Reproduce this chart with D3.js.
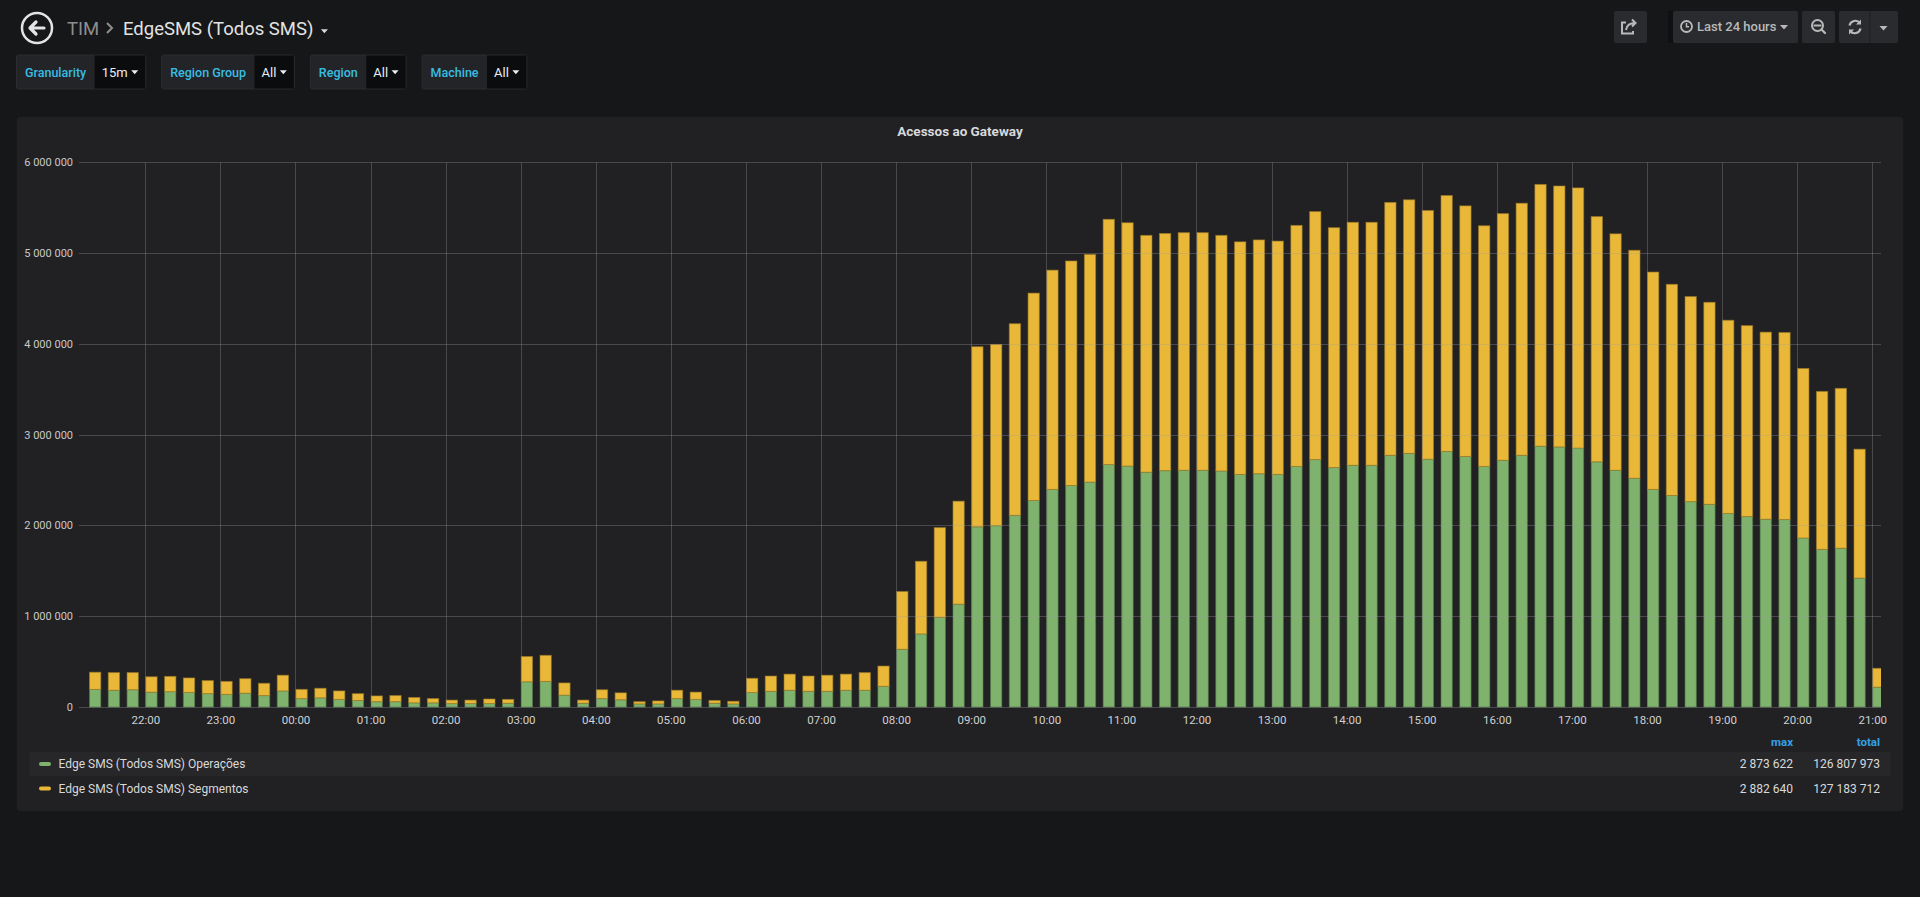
<!DOCTYPE html>
<html><head><meta charset="utf-8">
<script src="https://cdn.jsdelivr.net/npm/d3@7"></script>
<style>
html,body{margin:0;padding:0;background:#161719;overflow:hidden;}
svg{display:block;font-family:Roboto,"Helvetica Neue",Arial,sans-serif;}
</style></head><body>
<svg id="c" width="1920" height="897"></svg>
<script>
// ---------- DATA ----------
const times = ["21:15","21:30","21:45",
"22:00","22:15","22:30","22:45","23:00","23:15","23:30","23:45",
"00:00","00:15","00:30","00:45","01:00","01:15","01:30","01:45",
"02:00","02:15","02:30","02:45","03:00","03:15","03:30","03:45",
"04:00","04:15","04:30","04:45","05:00","05:15","05:30","05:45",
"06:00","06:15","06:30","06:45","07:00","07:15","07:30","07:45",
"08:00","08:15","08:30","08:45","09:00","09:15","09:30","09:45",
"10:00","10:15","10:30","10:45","11:00","11:15","11:30","11:45",
"12:00","12:15","12:30","12:45","13:00","13:15","13:30","13:45",
"14:00","14:15","14:30","14:45","15:00","15:15","15:30","15:45",
"16:00","16:15","16:30","16:45","17:00","17:15","17:30","17:45",
"18:00","18:15","18:30","18:45","19:00","19:15","19:30","19:45",
"20:00","20:15","20:30","20:45","21:00"];

const operacoes = [194000,185000,190000,164000,169000,160000,147000,139000,152000,126000,
177000,93000,101000,84000,72000,59000,59000,46000,46000,38000,
38000,38000,42000,278000,282000,131000,42000,93000,80000,34000,
34000,93000,84000,42000,34000,160000,173000,185000,173000,173000,
185000,185000,228000,636000,805000,986000,1133000,1985000,1997000,2111000,
2275000,2397000,2440000,2478000,2671000,2655000,2587000,2604000,2608000,2608000,
2600000,2562000,2570000,2562000,2650000,2726000,2638000,2663000,2663000,2773000,
2794000,2730000,2815000,2760000,2650000,2718000,2773000,2873622,2865000,2853000,
2701000,2608000,2520000,2397000,2330000,2263000,2233000,2132000,2098000,2069000,
2065000,1862000,1736000,1749000,1420000,219000];

const segmentos = [189000,194000,189000,169000,168000,160000,144000,143000,160000,135000,
173000,101000,105000,93000,75000,63000,67000,59000,47000,38000,
38000,50000,42000,278000,287000,134000,34000,97000,76000,25000,
33000,92000,80000,30000,29000,156000,168000,177000,168000,177000,
177000,194000,223000,636000,800000,990000,1134000,1984000,1997000,2111000,
2284000,2415000,2473000,2507000,2701000,2679000,2608000,2612000,2617000,2617000,
2595000,2562000,2575000,2570000,2655000,2731000,2642000,2676000,2676000,2785000,
2793000,2739000,2819000,2760000,2651000,2717000,2776000,2882640,2874000,2865000,
2701000,2604000,2511000,2394000,2326000,2258000,2225000,2128000,2103000,2060000,
2060000,1867000,1740000,1761000,1420000,207000];

const xTickLabels = ["22:00","23:00","00:00","01:00","02:00","03:00","04:00","05:00","06:00",
"07:00","08:00","09:00","10:00","11:00","12:00","13:00","14:00","15:00","16:00","17:00",
"18:00","19:00","20:00","21:00"];
const yTickValues = [0,1000000,2000000,3000000,4000000,5000000,6000000];
const seriesNames = ["Edge SMS (Todos SMS) Operações","Edge SMS (Todos SMS) Segmentos"];
const seriesColors = ["#7EB26D","#EAB839"];
const legendMax = ["2 873 622","2 882 640"];
const legendTotal = ["126 807 973","127 183 712"];
const variables = [["Granularity","15m"],["Region Group","All"],["Region","All"],["Machine","All"]];

// ---------- HELPERS ----------
const svg = d3.select("#c");
const parseT = s => { const [h,m] = s.split(":").map(Number);
  const day = (h*60+m) > (21*60+7) ? 1 : 2; return new Date(2020,0,day,h,m); };
const fmtNum = d3.formatLocale({decimal:".",thousands:" ",grouping:[3],currency:["",""]}).format(",");
const caret = (g,x,y,c,s=4) => g.append("path").attr("d",`M${x-s},${y-s/2} L${x+s},${y-s/2} L${x},${y+s/2+0.5} Z`).attr("fill",c);

// ---------- HEADER ----------
const hdr = svg.append("g");
hdr.append("circle").attr("cx",37).attr("cy",28).attr("r",15).attr("fill","none").attr("stroke","#e4e4e4").attr("stroke-width",2.5);
hdr.append("path").attr("d","M30,28 L36,22 M30,28 L36,34 M30,28 L44,28").attr("fill","none")
  .attr("stroke","#e4e4e4").attr("stroke-width",3.2).attr("stroke-linecap","round").attr("stroke-linejoin","round");
hdr.append("text").attr("x",67).attr("y",34.5).attr("font-size",18.5).attr("fill","#8e8e8e").text("TIM");
hdr.append("path").attr("d","M107,23 L112,28 L107,33").attr("fill","none").attr("stroke","#8e8e8e").attr("stroke-width",2);
const ttl = hdr.append("text").attr("x",123).attr("y",34.5).attr("font-size",18.5).attr("fill","#e3e3e3").text("EdgeSMS (Todos SMS)");
caret(hdr,Math.max(319, 123 + ttl.node().getComputedTextLength() + 11),31,"#d8d9da",3.5);

// variables row
let vx = 16.5;
const gVars = svg.append("g");
variables.forEach(([lab,val]) => {
  const t1 = gVars.append("text").attr("font-size",12.5).attr("font-weight",500).attr("fill","#38bde2").text(lab);
  const lw = t1.node().getComputedTextLength();
  const t2 = gVars.append("text").attr("font-size",13).attr("fill","#e9edf2").text(val);
  const vw = t2.node().getComputedTextLength();
  const labW = lw + 17, valW = vw + 25;
  gVars.insert("rect","text").attr("x",vx).attr("y",55).attr("width",labW+valW).attr("height",34).attr("rx",2).attr("fill","#232427").attr("stroke","#2b2c30");
  gVars.insert("rect","text").attr("x",vx+labW).attr("y",55.5).attr("width",valW-0.5).attr("height",33).attr("fill","#0b0c0e");
  t1.attr("x",vx+8.5).attr("y",77);
  t2.attr("x",vx+labW+7).attr("y",77);
  caret(gVars,vx+labW+7+vw+7,72,"#e9edf2",3.5);
  vx += labW + valW + 16;
});

// right toolbar
const tb = svg.append("g");
const btn = (x,w) => tb.append("rect").attr("x",x).attr("y",11).attr("width",w).attr("height",32).attr("rx",2).attr("fill","#2a2b2f");
btn(1614,33);
tb.append("rect").attr("x",1668).attr("y",11).attr("width",6).attr("height",32).attr("fill","#0f1012");
btn(1673,125); btn(1802,33); btn(1839,59);
tb.append("line").attr("x1",1870).attr("x2",1870).attr("y1",11).attr("y2",43).attr("stroke","#1f2023");
const ic = "#b9b9b9";
// share icon
tb.append("path").attr("d","M1633,31 v2.5 h-11 v-11 h4").attr("fill","none").attr("stroke",ic).attr("stroke-width",2);
tb.append("path").attr("d","M1626,30 q1,-7 9,-7 M1632,19.5 l3.5,3.5 -3.5,3.5").attr("fill","none").attr("stroke",ic).attr("stroke-width",2);
// clock
tb.append("circle").attr("cx",1686.5).attr("cy",26.5).attr("r",5.5).attr("fill","none").attr("stroke",ic).attr("stroke-width",1.8);
tb.append("path").attr("d","M1686.5,23 v3.8 h2.5").attr("fill","none").attr("stroke",ic).attr("stroke-width",1.5);
tb.append("text").attr("x",1697).attr("y",31).attr("font-size",13).attr("font-weight",500).attr("fill",ic).text("Last 24 hours");
caret(tb,1784,27,ic,4);
// zoom out
tb.append("circle").attr("cx",1817.5).attr("cy",25.5).attr("r",5.5).attr("fill","none").attr("stroke",ic).attr("stroke-width",2);
tb.append("path").attr("d","M1821.5,29.5 L1825,33 M1814.5,25.5 h6").attr("stroke",ic).attr("stroke-width",2.2).attr("stroke-linecap","round");
// refresh
tb.append("path").attr("d","M1849.5,25.5 a6,6 0 0 1 10.5,-2.5 M1860.5,28.5 a6,6 0 0 1 -10.5,2.5").attr("fill","none").attr("stroke",ic).attr("stroke-width",2.2);
tb.append("path").attr("d","M1861,19.5 v5 h-5 Z M1849,34.5 v-5 h5 Z").attr("fill",ic);
caret(tb,1883.5,28,ic,4);

// ---------- PANEL ----------
svg.append("rect").attr("x",17).attr("y",117).attr("width",1886).attr("height",694).attr("rx",3).attr("fill","#212124");
svg.append("text").attr("x",960).attr("y",135.5).attr("text-anchor","middle").attr("font-size",13.5)
  .attr("font-weight",700).attr("fill","#d8d9da").text("Acessos ao Gateway");

const L = 79, R = 1881, T = 162.3, B = 707;
const start = new Date(2020,0,1,21,7), end = new Date(2020,0,2,21,7);
const x = d3.scaleTime().domain([start,end]).range([L,R]);
const y = d3.scaleLinear().domain([0,6000000]).range([B,T]);

const table = times.map((t,i) => ({t: parseT(t), op: operacoes[i], seg: segmentos[i]}));
const stacked = d3.stack().keys(["op","seg"])(table);

svg.append("clipPath").attr("id","pc").append("rect").attr("x",L).attr("y",T-2).attr("width",R-L).attr("height",B-T+4);
const slot = x(new Date(2020,0,1,22,15)) - x(new Date(2020,0,1,22,0));
const bw = slot*0.655;
const gBars = svg.append("g").attr("clip-path","url(#pc)");
stacked.forEach((layer,k) => {
  gBars.selectAll(null).data(layer).join("rect")
    .attr("x", d => x(d.data.t)+0.5)
    .attr("y", d => y(d[1]))
    .attr("width", bw-1)
    .attr("height", d => Math.max(0, y(d[0]) - y(d[1])))
    .attr("fill", seriesColors[k])
    .attr("stroke", d3.color(seriesColors[k]).darker(1.1))
    .attr("stroke-opacity",0.6)
    .attr("stroke-width",1);
});

// grid (drawn over bars, semi-transparent like the reference)
const grid = svg.append("g");
const xTickDates = xTickLabels.map(parseT);
grid.selectAll(null).data(xTickDates).join("line")
  .attr("x1",d=>Math.round(x(d))+0.5).attr("x2",d=>Math.round(x(d))+0.5).attr("y1",T).attr("y2",B)
  .attr("stroke","rgba(160,160,160,0.32)");
grid.selectAll(null).data(yTickValues).join("line")
  .attr("x1",L).attr("x2",R).attr("y1",d=>Math.round(y(d))+0.5).attr("y2",d=>Math.round(y(d))+0.5)
  .attr("stroke","rgba(160,160,160,0.32)");

// axes
const yAxis = svg.append("g").attr("transform",`translate(${L},0)`)
  .call(d3.axisLeft(y).tickValues(yTickValues).tickFormat(fmtNum).tickSize(0).tickPadding(6));
yAxis.select(".domain").remove();
yAxis.selectAll("text").attr("font-size",11).attr("fill","#c8c8c8").attr("font-family","Roboto, sans-serif");

const xAxis = svg.append("g").attr("transform",`translate(0,${B})`)
  .call(d3.axisBottom(x).tickValues(xTickDates).tickFormat(d3.timeFormat("%H:%M")).tickSize(0).tickPadding(9));
xAxis.select(".domain").remove();
xAxis.selectAll("text").attr("font-size",11.5).attr("fill","#d0d0d0").attr("font-family","Roboto, sans-serif");

// ---------- LEGEND ----------
const lg = svg.append("g");
lg.append("text").attr("x",1793).attr("y",746).attr("text-anchor","end").attr("font-size",11.5).attr("font-weight",700).attr("fill","#33a2e5").text("max");
lg.append("text").attr("x",1880).attr("y",746).attr("text-anchor","end").attr("font-size",11.5).attr("font-weight",700).attr("fill","#33a2e5").text("total");
seriesNames.forEach((n,i) => {
  const cy = 764 + i*24.5;
  if (i===0) lg.append("rect").attr("x",29.5).attr("y",cy-12).attr("width",1861).attr("height",24).attr("fill","#27272a");
  lg.append("rect").attr("x",39).attr("y",cy-2).attr("width",12).attr("height",4).attr("rx",2).attr("fill",seriesColors[i]);
  lg.append("text").attr("x",58.5).attr("y",cy+4).attr("font-size",12).attr("fill","#d8d9da").text(n);
  lg.append("text").attr("x",1793).attr("y",cy+4).attr("text-anchor","end").attr("font-size",12).attr("fill","#d8d9da").text(legendMax[i]);
  lg.append("text").attr("x",1880).attr("y",cy+4).attr("text-anchor","end").attr("font-size",12).attr("fill","#d8d9da").text(legendTotal[i]);
});
</script>
</body></html>
